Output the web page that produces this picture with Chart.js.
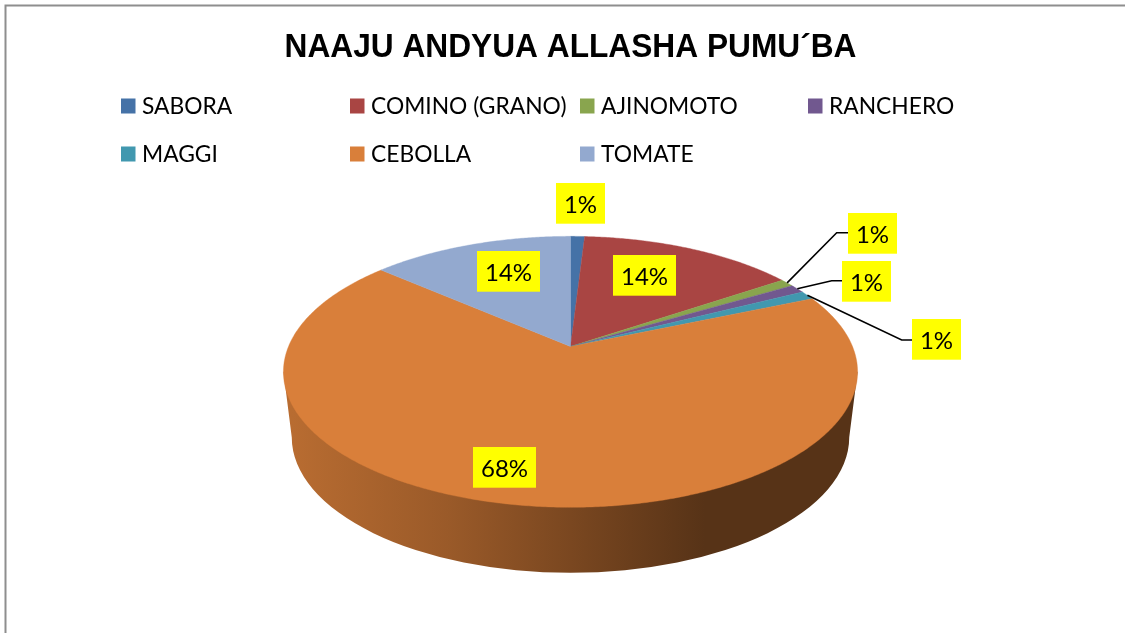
<!DOCTYPE html>
<html>
<head>
<meta charset="utf-8">
<style>
html,body{margin:0;padding:0;background:#fff;overflow:hidden}
#box{position:relative;width:1125px;height:633px}
canvas{display:block}
</style>
<script src="https://cdn.jsdelivr.net/npm/chart.js@4/dist/chart.umd.min.js"></script>
</head>
<body>
<div id="box"><canvas id="c" width="1125" height="633"></canvas></div>
<script>
const titleText = "NAAJU ANDYUA ALLASHA PUMU´BA";
const categories = ["SABORA","COMINO (GRANO)","AJINOMOTO","RANCHERO","MAGGI","CEBOLLA","TOMATE"];
const values = [0.95,14.6,0.93,1.05,1.05,67.8,13.6];
const percentLabels = ["1%","14%","1%","1%","1%","68%","14%"];
const colors = ["#4572a7","#a94543","#89a54e","#71588f","#4198af","#d97f3a","#93a9cf"];

// layout of the furniture (not data)
const legendSlots = [[121,106],[350,106],[580,106],[808,106],[121,154],[350,154],[580,154]];
const labelBoxes = [[556,183,49],[613,255,63],[848,213,49],[842,261,49],[912,319,49],[473,447,63],[477,251,63]];
const leaderBends = {2:[[836.7,232.7],[848,232.7]],3:[[831.7,280.7],[842,280.7]],4:[[901.7,340],[912,340]]};
const LABEL_H = 40.7;
const TILT_K = 0.187, SQUASH = 0.4636, DEPTH = 65.5, FOOT = 0.971;

function project(el,theta){
  const u=Math.cos(theta), v=Math.sin(theta), w=1-TILT_K*v;
  return [el.x+el.outerRadius*u/w, el.y+el.outerRadius*SQUASH*v/w];
}
function shade(hex,f){
  const n=parseInt(hex.slice(1),16);
  return `rgb(${Math.round((n>>16&255)*f)},${Math.round((n>>8&255)*f)},${Math.round((n&255)*f)})`;
}
function discGeometry(el){
  const R=el.outerRadius, A=R*SQUASH, k=TILT_K;
  const yBack=-A/(1+k), yFront=A/(1-k);
  return {cx:el.x, cy:el.y+(yBack+yFront)/2, rx:R/Math.sqrt(1-k*k), ry:(yFront-yBack)/2};
}

const pie3d = {
  id:'pie3d',
  beforeDraw(chart){
    const c=chart.ctx;
    c.save();
    c.strokeStyle='#8e8e8e'; c.lineWidth=2;
    c.beginPath(); c.moveTo(5.5,633); c.lineTo(5.5,5.5); c.lineTo(1125,5.5); c.stroke();
    c.restore();
  },
  beforeDatasetDraw(chart,args){
    const c=chart.ctx, els=args.meta.data;
    const front=els.findIndex(e=>{
      const p=e.getProps(['startAngle','endAngle'],true);
      return p.startAngle<=Math.PI/2 && p.endAngle>=Math.PI/2;
    });
    const el0=els[0].getProps(['x','y','outerRadius'],true);
    const g=discGeometry(el0), base=colors[front];
    const bx=g.rx*FOOT, by=g.cy+DEPTH;
    const grad=c.createLinearGradient(g.cx-bx,0,g.cx+bx,0);
    [[0,.85],[.28,.71],[.5,.56],[.74,.40],[1,.40]].forEach(s=>grad.addColorStop(s[0],shade(base,s[1])));
    c.save();
    c.fillStyle=grad;
    c.beginPath();
    c.moveTo(g.cx+g.rx,g.cy);
    c.lineTo(g.cx+bx,by);
    c.ellipse(g.cx,by,bx,g.ry,0,0,Math.PI,false);
    c.lineTo(g.cx-g.rx,g.cy);
    c.closePath();
    c.fill();
    els.forEach((e,i)=>{
      const p=e.getProps(['x','y','startAngle','endAngle','outerRadius'],true);
      c.fillStyle=colors[i]; c.strokeStyle=colors[i]; c.lineWidth=0.4;
      c.beginPath();
      c.moveTo(p.x,p.y);
      const n=Math.max(2,Math.ceil((p.endAngle-p.startAngle)/0.008));
      for(let j=0;j<=n;j++){
        const q=project(p,p.startAngle+(p.endAngle-p.startAngle)*j/n);
        c.lineTo(q[0],q[1]);
      }
      c.closePath(); c.fill(); c.stroke();
    });
    c.restore();
    return false;
  },
  afterDatasetsDraw(chart){
    const c=chart.ctx, els=chart.getDatasetMeta(0).data;
    c.save();
    // leaders
    c.strokeStyle='#000'; c.lineWidth=1.6;
    Object.keys(leaderBends).forEach(k=>{
      const p=els[k].getProps(['x','y','startAngle','endAngle','outerRadius'],true);
      const s=project(p,(p.startAngle+p.endAngle)/2);
      c.beginPath(); c.moveTo(s[0],s[1]);
      leaderBends[k].forEach(q=>c.lineTo(q[0],q[1]));
      c.stroke();
    });
    // data labels
    c.font='24px Lato'; c.textAlign='center'; c.textBaseline='middle';
    percentLabels.forEach((t,i)=>{
      const b=labelBoxes[i];
      c.fillStyle='#ffff00'; c.fillRect(b[0],b[1],b[2],LABEL_H);
      c.fillStyle='#000'; c.fillText(t,b[0]+b[2]/2,b[1]+LABEL_H/2+2);
    });
    // legend
    c.font='22.8px Lato'; c.textAlign='left';
    categories.forEach((t,i)=>{
      const s=legendSlots[i];
      c.fillStyle=colors[i]; c.fillRect(s[0],s[1]-7.5,14.5,15);
      c.fillStyle='#000'; c.fillText(t,s[0]+21,s[1]+0.5);
    });
    c.restore();
  }
};

new Chart(document.getElementById('c'),{
  type:'pie',
  data:{labels:categories,datasets:[{data:values,backgroundColor:colors,borderWidth:0}]},
  options:{
    responsive:false,animation:false,
    layout:{padding:{left:284.5,right:268.5,top:0,bottom:4.5}},
    plugins:{
      legend:{display:false},tooltip:{enabled:false},
      title:{display:true,text:titleText,color:'#000',
        font:{family:'"Liberation Sans"',size:33,weight:'bold',lineHeight:1},
        padding:{top:31.5,bottom:0}}
    }
  },
  plugins:[pie3d]
});
</script>
</body>
</html>
